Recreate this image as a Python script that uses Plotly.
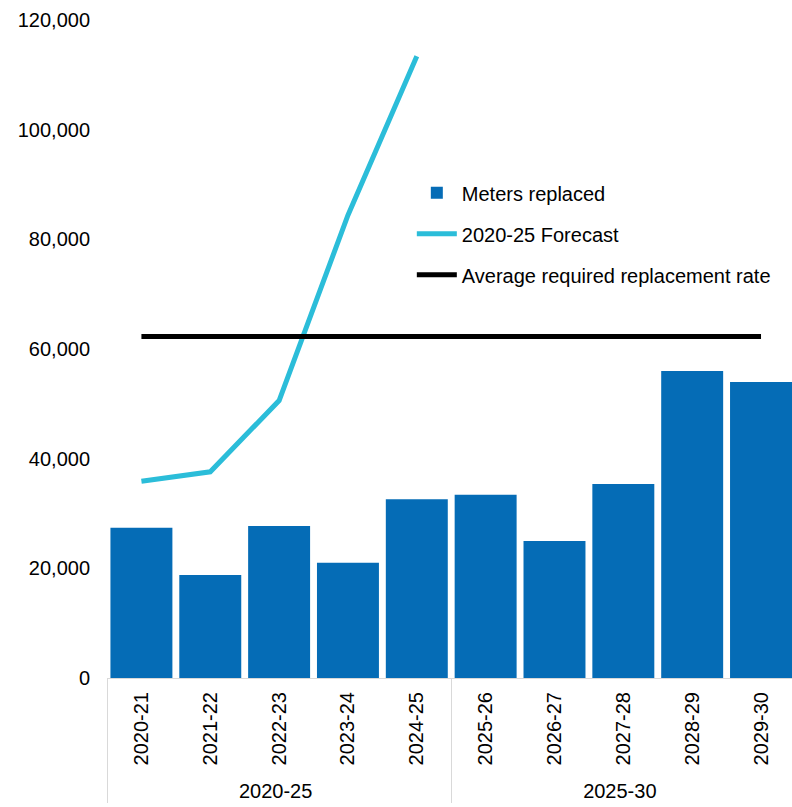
import plotly.graph_objects as go

periods = ["2020-25"] * 5 + ["2025-30"] * 5
years = ["2020-21", "2021-22", "2022-23", "2023-24", "2024-25",
         "2025-26", "2026-27", "2027-28", "2028-29", "2029-30"]
meters_replaced = [27400, 18800, 27700, 21000, 32600, 33400, 25000, 35400, 56000, 54000]
forecast = [35900, 37600, 50600, 84400, 113400]
average_rate = [62300] * 10

FONT = "Liberation Sans, Arial, sans-serif"

fig = go.Figure()
fig.add_trace(go.Bar(
    x=[periods, years], y=meters_replaced, name="Meters replaced",
    legendgroup="a",
    marker=dict(color="#056cb6", line=dict(width=0)),
))
fig.add_trace(go.Scatter(
    x=[periods[:5], years[:5]], y=forecast, name="2020-25 Forecast",
    legendgroup="b",
    mode="lines", line=dict(color="#2bbdd9", width=5),
))
fig.add_trace(go.Scatter(
    x=[periods, years], y=average_rate, name="Average required replacement rate",
    legendgroup="c",
    mode="lines", line=dict(color="#000000", width=5),
))

fig.update_layout(
    width=792, height=807,
    margin=dict(l=107, r=0, t=20, b=129, autoexpand=False),
    paper_bgcolor="white", plot_bgcolor="white",
    font=dict(family=FONT, size=20, color="#000000"),
    bargap=0.1,
    showlegend=True,
    legend=dict(
        x=0.445, y=0.767, xanchor="left", yanchor="top",
        bgcolor="rgba(0,0,0,0)", font=dict(size=20),
        traceorder="grouped", tracegroupgap=12, itemwidth=40,
    ),
    xaxis=dict(
        type="multicategory", tickangle=-90,
        range=[-0.5, 9.45],
        showgrid=False, showline=True, linecolor="#d9d9d9", linewidth=1,
        showdividers=True, dividercolor="#d9d9d9", dividerwidth=1,
        tickfont=dict(family=FONT, size=20),
        ticklabelstandoff=5,
        automargin=False,
    ),
    yaxis=dict(
        range=[0, 120000], dtick=20000, tickformat=",d",
        showgrid=False, zeroline=False, showline=False,
        ticklabelstandoff=16,
        tickfont=dict(family=FONT, size=20),
        automargin=False,
    ),
)

fig.write_html("out.html")
